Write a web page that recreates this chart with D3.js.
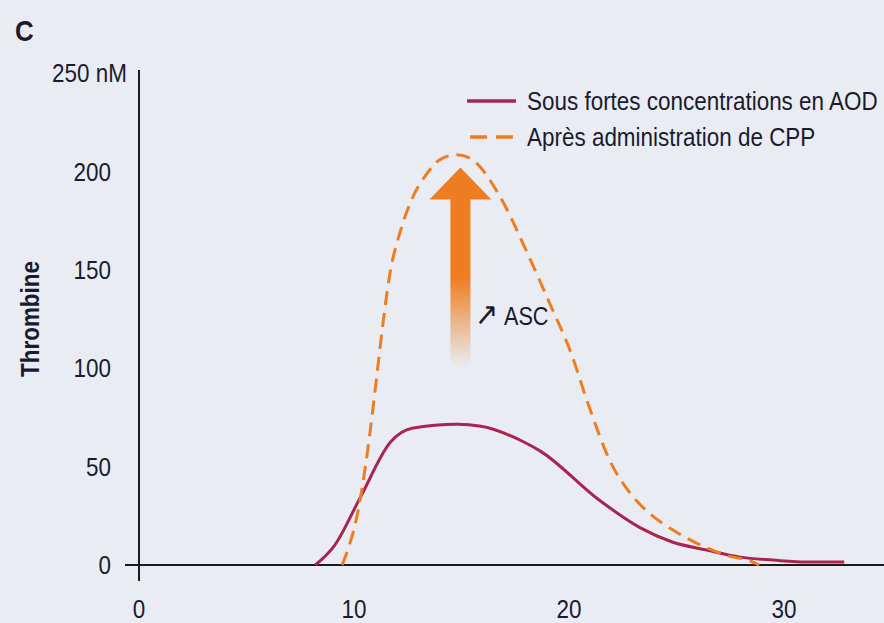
<!DOCTYPE html>
<html>
<head>
<meta charset="utf-8">
<script src="https://cdn.jsdelivr.net/npm/d3@7"></script>
<style>
  html, body { margin: 0; padding: 0; background: #e9edf3; }
  svg { display: block; }
  text { font-family: "Liberation Sans", Arial, sans-serif; fill: #1b1b2f; }
</style>
</head>
<body>
<svg id="chart" width="884" height="623"></svg>
<script>
// Thrombin generation curves (time in minutes, thrombin in nM)
const xTicks = [0, 10, 20, 30];
const yTicks = [0, 50, 100, 150, 200];
const yTopLabel = "250 nM";
const seriesNames = ["Sous fortes concentrations en AOD", "Après administration de CPP"];

const aodTime   = [8.2, 9.1, 10.3, 11.7, 12.7, 14.8, 15.9, 17.9, 18.65, 21.4, 23.3, 24.8, 26.4, 27.95, 29.5, 31.07, 32.8];
const aodValues = [0,   10,  34.5, 62.5, 69.5, 71.5, 70.5, 62.5, 58,    33,   19,   11.7, 7.6,  4,     2.5,  1.5,   1.5];

const cppTime   = [9.45, 10.3, 10.74, 11.07, 11.35, 11.67, 12.14, 12.74, 13.4, 14.0, 14.8,  15.5, 16.8, 18.0, 19.1, 20.05, 20.98, 21.9, 22.84, 23.77, 24.8, 25.95, 27.3, 28.56, 28.85];
const cppValues = [0,    34,   67,    97,    123,   148,   169,   187,   199,  206,  208.5, 206,  187,  160,  133,  109,   79,    53,   36.5,  26,    18,   11,    5,    1.5,   0];

const arrowFrom = 70, arrowTo = 202;   // rise in peak thrombin (nM), arrow extent
const arrowTime = 14.95;

const svg = d3.select("#chart");
const x = d3.scaleLinear().domain([0, 30]).range([139, 784]);
const y = d3.scaleLinear().domain([0, 250]).range([565, 73]);

const red = "#a9244f";
const orange = "#ee7d22";

// Narrow lettering: regular face squeezed horizontally
const probe = svg.append("text").attr("font-size", 26).text(seriesNames[0]);
const squeeze = 351 / probe.node().getComputedTextLength();
probe.remove();

function label(parent, px, py, str, size, anchor, extra) {
  const t = parent.append("text")
    .attr("transform", `translate(${px},${py}) scale(${squeeze},1)${extra || ""}`)
    .attr("dy", "0.35em")
    .attr("font-size", size)
    .attr("text-anchor", anchor)
    .text(str);
  return t;
}

// Panel letter
label(svg, 15, 30, "C", 30, "start").attr("font-weight", "bold");

// Axes lines
svg.append("line").attr("x1", x(0)).attr("x2", x(0))
  .attr("y1", y(250) - 3).attr("y2", y(0) + 16)
  .attr("stroke", "#1a1a1a").attr("stroke-width", 2);
svg.append("line").attr("x1", x(0) - 14).attr("x2", 884)
  .attr("y1", y(0)).attr("y2", y(0))
  .attr("stroke", "#1a1a1a").attr("stroke-width", 2);

// Y tick labels
yTicks.forEach(d => label(svg, 111, y(d), d, 26, "end"));
label(svg, 127, y(250), yTopLabel, 26, "end");

// X tick labels
xTicks.forEach(d => label(svg, x(d), 609, d, 26, "middle"));

// Y axis title
svg.append("text")
  .attr("transform", `translate(30,${y(125)}) rotate(-90) scale(${squeeze},1)`)
  .attr("dy", "0.35em")
  .attr("text-anchor", "middle").attr("font-size", 26).attr("font-weight", "bold")
  .text("Thrombine");

// Arrow with fading tail
const defs = svg.append("defs");
const grad = defs.append("linearGradient").attr("id", "fade")
  .attr("x1", 0).attr("x2", 0).attr("y1", 0).attr("y2", 1);
grad.append("stop").attr("offset", "0%").attr("stop-color", orange).attr("stop-opacity", 1);
grad.append("stop").attr("offset", "55%").attr("stop-color", orange).attr("stop-opacity", 1);
grad.append("stop").attr("offset", "100%").attr("stop-color", orange).attr("stop-opacity", 0);

const ax = x(arrowTime);
const tipY = y(arrowTo), headBase = tipY + 32, tailY = y(arrowFrom) - 60;
svg.append("path")
  .attr("d", `M${ax},${tipY} L${ax + 31},${headBase} L${ax + 10},${headBase} L${ax + 10},${tailY}
              L${ax - 10},${tailY} L${ax - 10},${headBase} L${ax - 31},${headBase} Z`)
  .attr("fill", "url(#fade)");

label(svg, 475, 314, "↗", 32, "start").attr("font-family", "DejaVu Sans");
label(svg, 504, 316, "ASC", 25, "start");

// Curves
const line = d3.line().x(d => x(d[0])).y(d => y(d[1])).curve(d3.curveMonotoneX);
svg.append("path").datum(d3.zip(aodTime, aodValues))
  .attr("d", line).attr("fill", "none")
  .attr("stroke", red).attr("stroke-width", 3).attr("stroke-linejoin", "round");
svg.append("path").datum(d3.zip(cppTime, cppValues))
  .attr("d", line).attr("fill", "none")
  .attr("stroke", orange).attr("stroke-width", 3).attr("stroke-dasharray", "14,8");

// Legend
const lg = svg.append("g");
lg.append("line").attr("x1", 467).attr("x2", 516).attr("y1", 101).attr("y2", 101)
  .attr("stroke", red).attr("stroke-width", 3.5);
lg.append("line").attr("x1", 470).attr("x2", 516).attr("y1", 137).attr("y2", 137)
  .attr("stroke", orange).attr("stroke-width", 3.5).attr("stroke-dasharray", "17,9");
seriesNames.forEach((d, i) => label(lg, 527, 101 + i * 36, d, 26, "start"));
</script>
</body>
</html>
